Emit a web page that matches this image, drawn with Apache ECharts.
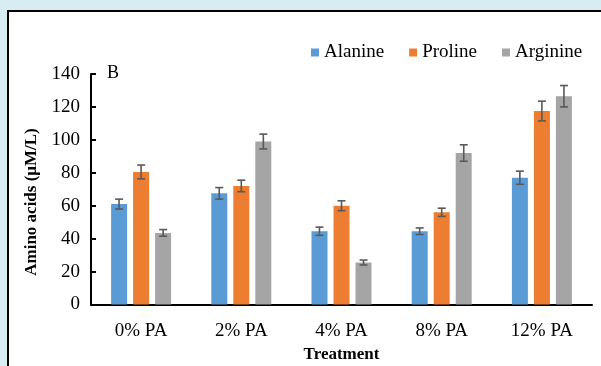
<!DOCTYPE html>
<html>
<head>
<meta charset="utf-8">
<script src="https://cdn.jsdelivr.net/npm/echarts@6/dist/echarts.min.js"></script>
<style>
html,body{margin:0;padding:0;background:#d8edf2;}
#c{width:601px;height:366px;}
</style>
</head>
<body>
<div id="c"></div>
<script>
const categories = ['0% PA', '2% PA', '4% PA', '8% PA', '12% PA'];
const seriesNames = ['Alanine', 'Proline', 'Arginine'];
const alanine = [61, 67.5, 44.5, 44.5, 77];
const proline = [80.5, 72, 60, 56, 117.5];
const arginine = [43.5, 99, 25.5, 92, 126.5];
const alanineErr = [3, 3.5, 2.5, 2, 4];
const prolineErr = [4.2, 3.5, 3, 2.5, 6];
const arginineErr = [2, 4.5, 1.5, 5, 6.5];
const yTicks = [0, 20, 40, 60, 80, 100, 120, 140];
const colors = ['#5b9bd5', '#ed7d31', '#a5a5a5'];
const yTitle = 'Amino acids (μM/L)';
const xTitle = 'Treatment';
const panelLabel = 'B';

const FONT = '"Liberation Serif", "Times New Roman", serif';
const values = [alanine, proline, arginine];
const errs = [alanineErr, prolineErr, arginineErr];

const chart = echarts.init(document.getElementById('c'), null, {renderer: 'canvas'});

function errSeries(k) {
  return {
    type: 'custom',
    name: seriesNames[k] + ' err',
    z: 10,
    silent: true,
    data: values[k].map((v, i) => [i, v, errs[k][i]]),
    renderItem: function (params, api) {
      const i = api.value(0), v = api.value(1), e = api.value(2);
      const band = api.size([1, 0])[0];
      const c = api.coord([i, v]);
      const x = c[0] + (k - 1) * band * 0.22;
      const top = api.coord([i, v + e])[1];
      const bot = api.coord([i, v - e])[1];
      const hw = 4;
      const st = {stroke: '#595959', lineWidth: 1.6};
      return {
        type: 'group',
        children: [
          {type: 'line', shape: {x1: x, y1: top, x2: x, y2: bot}, style: st},
          {type: 'line', shape: {x1: x - hw, y1: top, x2: x + hw, y2: top}, style: st},
          {type: 'line', shape: {x1: x - hw, y1: bot, x2: x + hw, y2: bot}, style: st}
        ]
      };
    }
  };
}

const barSeries = seriesNames.map((n, k) => ({
  type: 'bar',
  name: n,
  data: values[k],
  barWidth: 16,
  barGap: '37.5%',
  itemStyle: {color: colors[k]},
  emphasis: {disabled: true}
}));

chart.setOption({
  animation: false,
  textStyle: {fontFamily: FONT},
  graphic: [
    {type: 'rect', shape: {x: 8, y: 11, width: 620, height: 400}, style: {fill: '#ffffff', stroke: '#000000', lineWidth: 2}, z: -10},
    {type: 'text', x: 107, y: 64, style: {text: panelLabel, font: '18px ' + FONT, fill: '#000'}},
    {type: 'text', x: 32, y: 202, rotation: Math.PI / 2,
     style: {text: yTitle, font: 'bold 17px ' + FONT, fill: '#000', align: 'center', verticalAlign: 'middle'}}
  ],
  legend: {
    data: seriesNames,
    left: 306,
    top: 38,
    itemWidth: 8,
    itemHeight: 8,
    itemGap: 25,
    icon: 'rect',
    textStyle: {fontFamily: FONT, fontSize: 19, color: '#000'}
  },
  grid: {left: 91, right: 9, top: 74, bottom: 61.5, containLabel: false, outerBoundsMode: 'none'},
  xAxis: {
    type: 'category',
    data: categories,
    name: xTitle,
    nameLocation: 'middle',
    nameGap: 42,
    nameTextStyle: {fontFamily: FONT, fontSize: 17, fontWeight: 'bold', color: '#000'},
    axisLine: {lineStyle: {color: '#000', width: 2}},
    axisTick: {show: false},
    axisLabel: {fontFamily: FONT, fontSize: 19, color: '#000', margin: 17}
  },
  yAxis: {
    type: 'value',
    min: yTicks[0],
    max: yTicks[yTicks.length - 1],
    interval: yTicks[1] - yTicks[0],
    axisLine: {show: true, lineStyle: {color: '#000', width: 2}},
    axisTick: {show: true, inside: true, length: 5, lineStyle: {color: '#000', width: 2}},
    splitLine: {show: false},
    axisLabel: {fontFamily: FONT, fontSize: 19, color: '#000', margin: 11}
  },
  series: barSeries.concat([errSeries(0), errSeries(1), errSeries(2)])
});
</script>
</body>
</html>
